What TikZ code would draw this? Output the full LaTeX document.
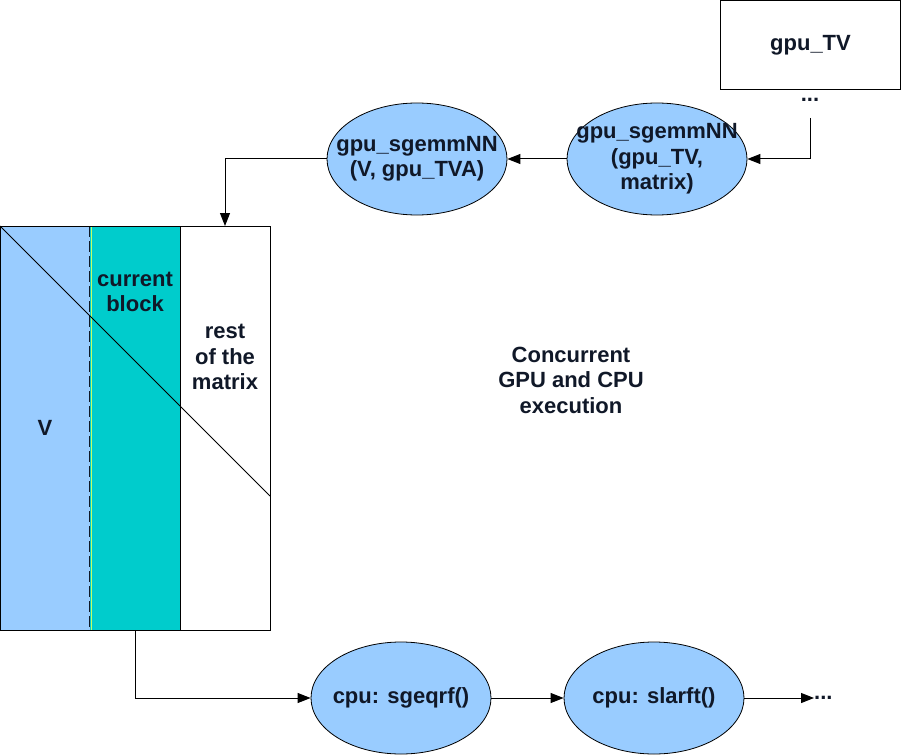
\documentclass[tikz,border=0pt]{standalone}
\usepackage{fontspec}
\setmainfont{Liberation Sans}
\usetikzlibrary{shapes.geometric,arrows.meta}
\definecolor{lblue}{HTML}{99CCFF}
\definecolor{teal2}{HTML}{00CCCC}
\definecolor{ink}{HTML}{101828}
\tikzset{
  ell/.style={ellipse,draw=black,line width=0.8pt,fill=lblue,minimum width=180pt,minimum height=112pt,inner sep=0pt},
  btxt/.style={font=\fontsize{22}{25.5}\selectfont\bfseries,text=ink,align=center,inner sep=0pt},
  conn/.style={line width=1pt,-{Triangle[length=13pt,width=10pt]}},
}
\begin{document}
\begin{tikzpicture}[x=1pt,y=-1pt]
\useasboundingbox (0,0) rectangle (901,754);
% gpu_TV box
\node[draw=black,line width=1pt,minimum width=180pt,minimum height=89pt,inner sep=0pt] (tv) at (810.5,45) {};
\node[btxt] at (tv) {gpu\_TV};
\node[btxt] (tvdots) at (810,100) {...};
\coordinate (tvend) at (810,118);
% top ellipses
\node[ell] (e2) at (657,159) {};
\node[btxt] at (e2) {gpu\_sgemmNN\\(gpu\_TV,\\matrix)};
\node[ell] (e1) at (417,159) {};
\node[btxt] at (e1) {gpu\_sgemmNN\\(V, gpu\_TVA)};
% matrix
\fill[lblue] (0,226) rectangle (90,630);
\fill[teal2] (90,226) rectangle (180,630);
\draw[line width=0.8pt,color=green!40!yellow!60] (91.4,226) -- (91.4,630);
\draw[line width=1.2pt,color=ink,dash pattern=on 11pt off 4pt] (89.6,226) -- (89.6,630);
\draw[line width=1pt] (180,226) -- (180,630);
\draw[line width=0.8pt] (0,226) -- (270,496);
\node[draw=black,line width=1pt,minimum width=270pt,minimum height=404pt,inner sep=0pt] (mat) at (135.5,428) {};
\coordinate (mtop) at (225,226);
\coordinate (mbot) at (135,630);
\node[btxt] (cb) at (135,292) {current\\block};
\node[btxt] (rest) at (225,357) {rest\\of the\\matrix};
\node[btxt] (vlab) at (45,428) {V};
% concurrent text
\node[btxt] (conc) at (571,380) {Concurrent\\GPU and CPU\\execution};
% bottom ellipses
\node[ell] (c1) at (401,698) {};
\node[btxt] at (c1) {cpu: sgeqrf()};
\node[ell] (c2) at (654,698) {};
\node[btxt] at (c2) {cpu: slarft()};
\node[btxt,anchor=west] (enddots) at (814,698) {...};
% connectors
\draw[conn] (tvend) |- (e2.east);
\draw[conn] (e2.west) -- (e1.east);
\draw[conn] (e1.west) -| (mtop);
\draw[conn] (mbot) |- (c1.west);
\draw[conn] (c1.east) -- (c2.west);
\draw[conn] (c2.east) -- (c2.east -| enddots.west);
\end{tikzpicture}
\end{document}
